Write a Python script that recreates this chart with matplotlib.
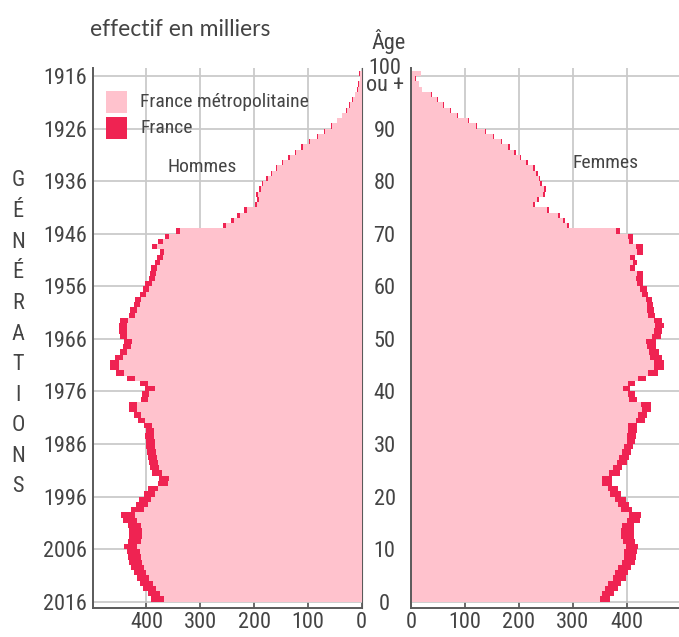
import matplotlib
matplotlib.use('Agg')
import matplotlib.pyplot as plt
from matplotlib import font_manager
from matplotlib.patches import Rectangle

# ---------------- data (effectif en milliers, 1er janvier 2017) ----------------
ages = list(range(0, 101))

male_metro = [368, 374, 382, 388, 395, 400, 405, 408, 410, 412,
              418, 410, 408, 408, 410, 418, 422, 405, 398, 392,
              385, 378, 360, 358, 372, 376, 378, 380, 382, 384,
              385, 386, 386, 390, 402, 410, 418, 418, 398, 396,
              385, 397, 422, 442, 452, 452, 444, 436, 428, 427,
              436, 437, 436, 434, 422, 418, 412, 410, 400, 395,
              390, 385, 383, 380, 374, 370, 367, 380, 370, 358,
              338, 253, 238, 226, 213, 194, 191, 193, 188, 183,
              175, 166, 157, 146, 134, 122, 110, 96, 82, 69,
              56, 45, 36, 28, 22, 17, 12, 7, 5, 3, 4]
male_france = [392, 398, 406, 412, 418, 423, 428, 432, 434, 436,
               442, 434, 432, 432, 434, 444, 447, 428, 420, 414,
               405, 398, 378, 376, 390, 394, 396, 398, 399, 400,
               401, 402, 401, 404, 416, 423, 433, 432, 410, 408,
               402, 412, 436, 457, 467, 468, 459, 450, 443, 442,
               450, 452, 452, 450, 433, 430, 424, 422, 412, 407,
               402, 396, 394, 391, 385, 380, 375, 389, 379, 366,
               345, 258, 243, 231, 218, 198, 195, 197, 191, 186,
               178, 169, 160, 149, 137, 124, 112, 98, 84, 71,
               57, 46, 37, 29, 23, 18, 13, 8, 6, 4, 5]

female_metro = [350, 354, 360, 366, 374, 378, 384, 392, 395, 396,
                398, 393, 390, 390, 392, 400, 404, 390, 384, 378,
                370, 365, 354, 355, 368, 374, 382, 386, 392, 396,
                400, 401, 402, 403, 418, 422, 428, 427, 405, 402,
                393, 403, 421, 440, 450, 450, 444, 442, 437, 436,
                448, 450, 452, 450, 440, 438, 437, 436, 428, 425,
                420, 418, 419, 406, 412, 406, 420, 418, 404, 402,
                380, 290, 282, 272, 252, 226, 233, 245, 246, 240,
                237, 232, 227, 214, 202, 192, 180, 167, 152, 137,
                121, 105, 86, 73, 60, 48, 38, 20, 14, 8, 18]
female_france = [370, 376, 384, 390, 398, 402, 408, 415, 418, 419,
                 421, 416, 413, 413, 414, 424, 426, 410, 404, 398,
                 390, 384, 372, 373, 388, 392, 400, 404, 408, 412,
                 416, 418, 419, 420, 435, 438, 446, 445, 419, 416,
                 406, 415, 436, 458, 470, 470, 465, 460, 455, 454,
                 464, 466, 470, 466, 452, 450, 449, 448, 440, 437,
                 431, 430, 430, 415, 420, 416, 431, 430, 412, 411,
                 388, 294, 286, 276, 256, 230, 237, 249, 250, 243,
                 240, 235, 230, 217, 205, 195, 183, 169, 154, 139,
                 123, 107, 88, 75, 62, 50, 39, 21, 15, 10, 19]

x_ticks = [0, 100, 200, 300, 400]
age_ticks = [0, 10, 20, 30, 40, 50, 60, 70, 80, 90, 100]
generation_labels = ['2016', '2006', '1996', '1986', '1976', '1966',
                     '1956', '1946', '1936', '1926', '1916']
age_labels = ['0', '10', '20', '30', '40', '50', '60', '70', '80', '90', '100\nou +']
legend_labels = ['France métropolitaine', 'France']

# ---------------- style ----------------
PINK = '#FFC2CD'
RED = '#EF2352'
GRID = '#CACACA'
SPINE = '#5A5A5A'
TXT = '#444444'

names = {f.name for f in font_manager.fontManager.ttflist}
narrow = None
for cand in ['Liberation Sans Narrow', 'Roboto Condensed', 'Open Sans Condensed',
             'Noto Sans Condensed', 'DejaVu Sans Condensed']:
    if cand in names:
        narrow = cand
        break
if narrow is None:
    narrow = 'Liberation Sans' if 'Liberation Sans' in names else 'DejaVu Sans'
    NS = 13.5
else:
    NS = 16
HUMAN = 'Lato' if 'Lato' in names else 'DejaVu Sans'

W, H = 679, 637
fig = plt.figure(figsize=(W / 100, H / 100), dpi=100)

y_bot = (601.7 - 608) / 5.257
y_top = (601.7 - 68.3) / 5.257

axL = fig.add_axes([92.7 / W, 1 - 608 / H, (361.7 - 92.7) / W, (608 - 68.3) / H])
axR = fig.add_axes([411 / W, 1 - 608 / H, (W - 411) / W, (608 - 68.3) / H])

axL.barh(ages, male_france, height=1, align='edge', color=RED, lw=0, zorder=1)
axL.barh(ages, male_metro, height=1, align='edge', color=PINK, lw=0, zorder=1.1)
axR.barh(ages, female_france, height=1, align='edge', color=RED, lw=0, zorder=1)
axR.barh(ages, female_metro, height=1, align='edge', color=PINK, lw=0, zorder=1.1)

axL.set_xlim(500, 0)
axR.set_xlim(0, (W - 411) / 0.539)
for ax in (axL, axR):
    ax.set_ylim(y_bot, y_top)
    ax.set_axisbelow(True)
    ax.set_xticks(x_ticks)
    ax.set_xticklabels([str(v) for v in x_ticks], fontfamily=narrow, fontsize=NS, color=TXT)
    ax.set_yticks(age_ticks)
    ax.grid(True, color=GRID, lw=1.3)
    ax.tick_params(axis='x', direction='in', length=5, width=1.2, color=SPINE, pad=3)
    ax.tick_params(axis='y', length=0)
    ax.spines['top'].set_visible(False)
    ax.spines['right'].set_visible(False)
    for s in ('left', 'bottom'):
        ax.spines[s].set_color(SPINE)
        ax.spines[s].set_linewidth(1.4)

axL.spines['right'].set_visible(True)
axL.spines['right'].set_color(SPINE)
axL.spines['right'].set_zorder(0.5)

axL.set_yticklabels(generation_labels, fontfamily=narrow, fontsize=NS, color=TXT)
axL.tick_params(axis='y', pad=4)
axR.set_yticklabels(age_labels, fontfamily=narrow, fontsize=NS, color=TXT,
                    ha='center', linespacing=0.75)
axR.tick_params(axis='y', pad=19)

# ---------------- texts ----------------
def ft(px, py, s, **kw):
    fig.text(px / W, 1 - py / H, s, **kw)

ft(90, 29, 'effectif en milliers', fontfamily=HUMAN, fontsize=16.5, color=TXT,
   ha='left', va='center')
ft(389, 42, 'Âge', fontfamily=narrow, fontsize=NS, color=TXT, ha='center', va='center')
ft(202, 167, 'Hommes', fontfamily=narrow, fontsize=NS - 2, color=TXT, ha='center', va='center')
ft(606, 163, 'Femmes', fontfamily=narrow, fontsize=NS - 2, color=TXT, ha='center', va='center')

letters = list('GÉNÉRATIONS')
for i, ch in enumerate(letters):
    ft(18, 181 + i * (487 - 181) / (len(letters) - 1), ch, fontfamily=narrow,
       fontsize=NS, color=TXT, ha='center', va='center')

# legend
for (col, y0, lab) in [(PINK, 91, legend_labels[0]), (RED, 117, legend_labels[1])]:
    fig.patches.append(Rectangle((106 / W, 1 - (y0 + 22) / H), 21 / W, 22 / H,
                                 transform=fig.transFigure, color=col, lw=0))
    ft(140, y0 + 11, lab, fontfamily=narrow, fontsize=NS - 2, color=TXT,
       ha='left', va='center')

fig.savefig('out.png', dpi=100)
